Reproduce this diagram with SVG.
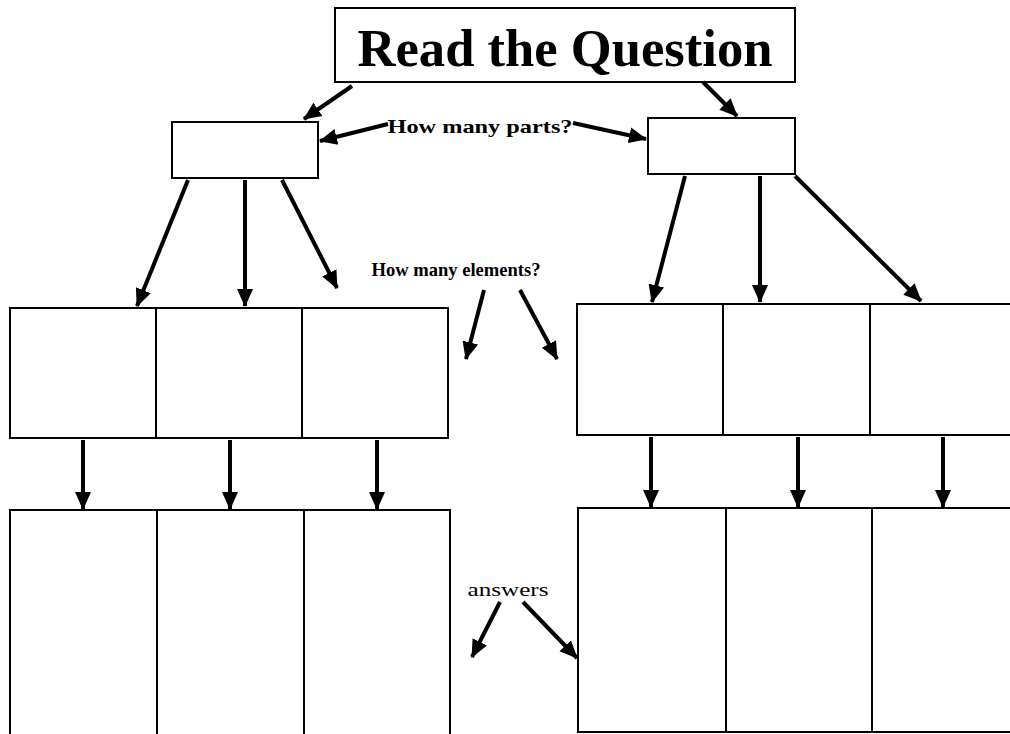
<svg xmlns="http://www.w3.org/2000/svg" width="1010" height="734" viewBox="0 0 1010 734">
<defs>
<marker id="ah" markerUnits="userSpaceOnUse" markerWidth="18" markerHeight="18" viewBox="0 0 18 18" refX="17" refY="9" orient="auto">
<path d="M0,1 L18,9 L0,17 Z" fill="#000"/>
</marker>
</defs>
<style>
.box{fill:#fff;stroke:#000;stroke-width:2}
.div{stroke:#000;stroke-width:2}
.arr{stroke:#000;stroke-width:4;fill:none;marker-end:url(#ah)}
.t{font-family:"Liberation Serif","Times New Roman",serif;fill:#000}
</style>
<rect width="1010" height="734" fill="#fff"/>
<g id="title">
<rect class="box" x="335" y="8" width="460" height="74"/>
<text class="t" x="565" y="66" text-anchor="middle" font-size="52" font-weight="bold" textLength="415" lengthAdjust="spacingAndGlyphs">Read the Question</text>
</g>
<g id="left-part">
<rect class="box" x="172" y="122" width="146" height="56"/>
</g>
<g id="right-part">
<rect class="box" x="648" y="118" width="147" height="56"/>
</g>
<g id="label-parts">
<text class="t" x="480" y="133" text-anchor="middle" font-size="19" font-weight="bold" textLength="185" lengthAdjust="spacingAndGlyphs">How many parts?</text>
</g>
<g id="label-elements">
<text class="t" x="456" y="276" text-anchor="middle" font-size="19" font-weight="bold" textLength="169" lengthAdjust="spacingAndGlyphs">How many elements?</text>
</g>
<g id="label-answers">
<text class="t" x="508" y="596" text-anchor="middle" font-size="19" textLength="81" lengthAdjust="spacingAndGlyphs">answers</text>
</g>
<g id="left-elements">
<rect class="box" x="10" y="308" width="438" height="130"/>
<line class="div" x1="156" y1="308" x2="156" y2="438"/>
<line class="div" x1="302" y1="308" x2="302" y2="438"/>
</g>
<g id="right-elements">
<rect class="box" x="577" y="304" width="440" height="131"/>
<line class="div" x1="723" y1="304" x2="723" y2="435"/>
<line class="div" x1="870" y1="304" x2="870" y2="435"/>
</g>
<g id="left-answers">
<rect class="box" x="10" y="510" width="440" height="230"/>
<line class="div" x1="157" y1="510" x2="157" y2="734"/>
<line class="div" x1="304" y1="510" x2="304" y2="734"/>
</g>
<g id="right-answers">
<rect class="box" x="578" y="508" width="440" height="224"/>
<line class="div" x1="726" y1="508" x2="726" y2="732"/>
<line class="div" x1="872" y1="508" x2="872" y2="732"/>
</g>
<g id="connectors">
<line class="arr" x1="352" y1="86" x2="304" y2="119"/>
<line class="arr" x1="703" y1="82" x2="737" y2="116"/>
<line class="arr" x1="388" y1="124" x2="320" y2="141"/>
<line class="arr" x1="573" y1="123" x2="646" y2="139"/>
<line class="arr" x1="188" y1="180" x2="137" y2="306"/>
<line class="arr" x1="245" y1="180" x2="245" y2="306"/>
<line class="arr" x1="282" y1="180" x2="337" y2="288"/>
<line class="arr" x1="484" y1="290" x2="466" y2="359"/>
<line class="arr" x1="520" y1="290" x2="557" y2="359"/>
<line class="arr" x1="685" y1="176" x2="652" y2="302"/>
<line class="arr" x1="760" y1="176" x2="760" y2="302"/>
<line class="arr" x1="795" y1="176" x2="921" y2="301"/>
<line class="arr" x1="83" y1="440" x2="83" y2="509"/>
<line class="arr" x1="230" y1="440" x2="230" y2="509"/>
<line class="arr" x1="377" y1="440" x2="377" y2="509"/>
<line class="arr" x1="651" y1="437" x2="651" y2="507"/>
<line class="arr" x1="798" y1="437" x2="798" y2="507"/>
<line class="arr" x1="943" y1="437" x2="943" y2="507"/>
<line class="arr" x1="500" y1="602" x2="472" y2="657"/>
<line class="arr" x1="523" y1="602" x2="577" y2="658"/>
</g>
</svg>
